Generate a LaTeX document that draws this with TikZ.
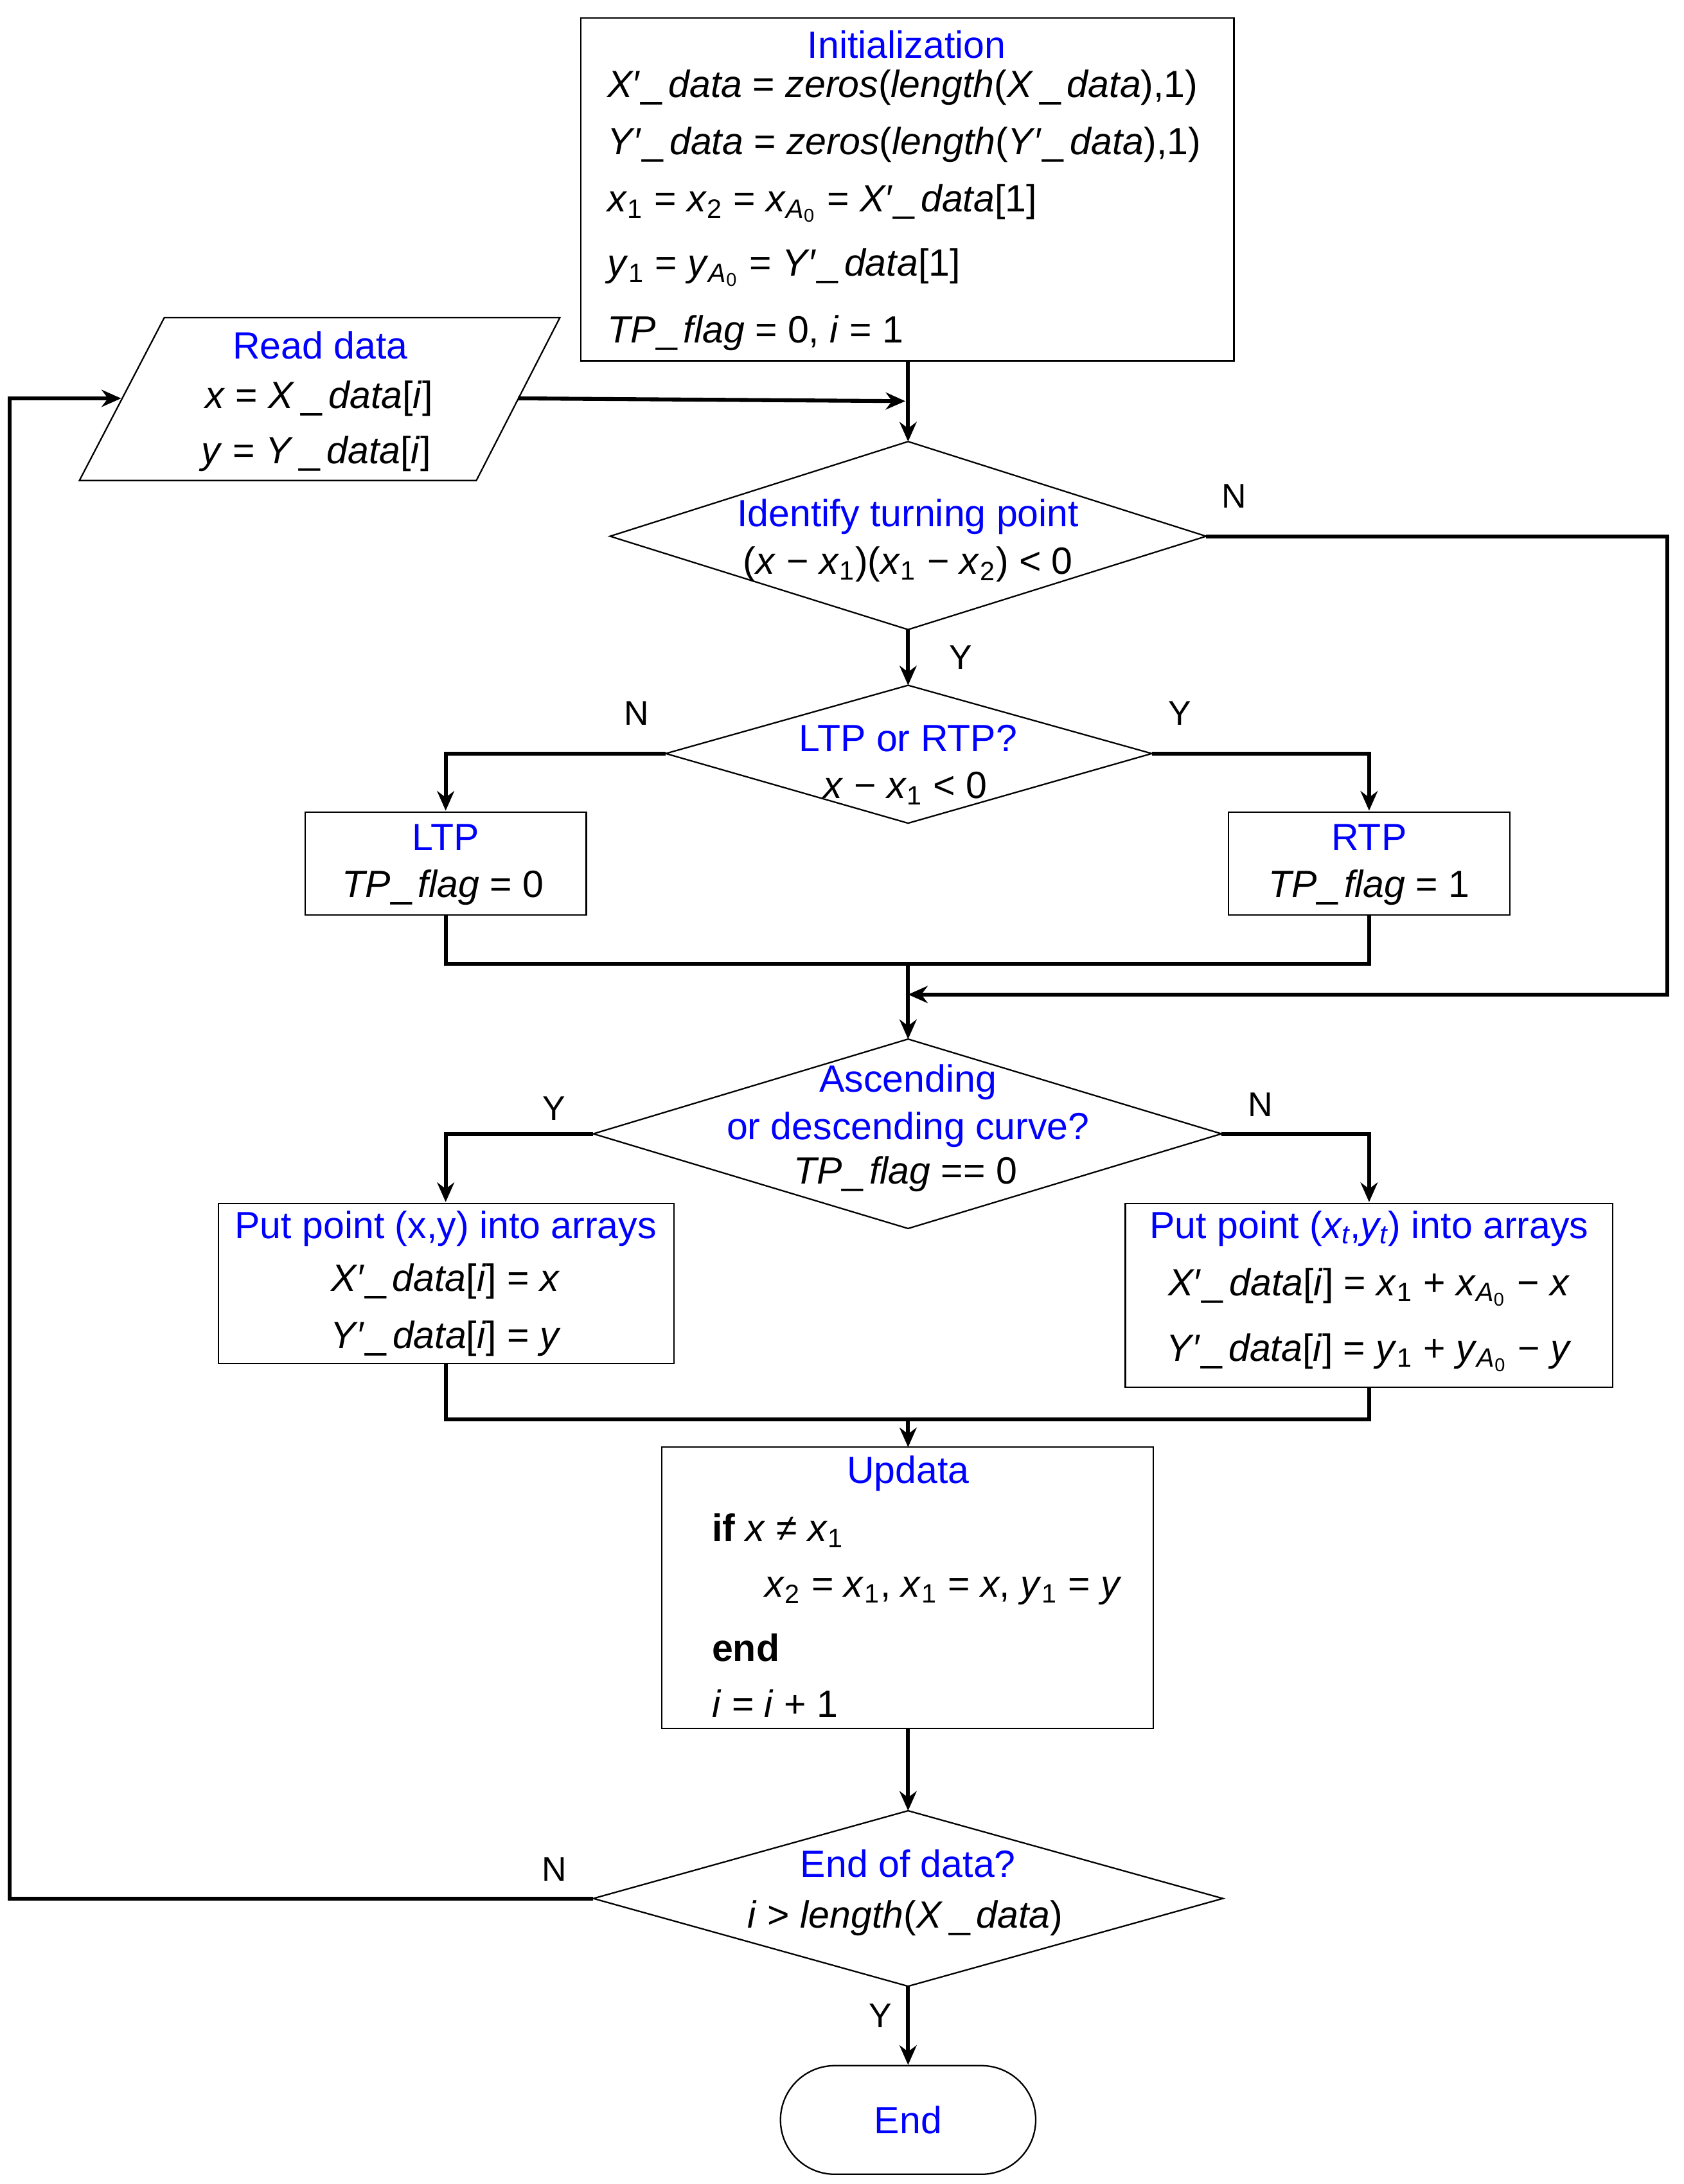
\documentclass[tikz,border=0pt]{standalone}
\usepackage{fontspec}
\setmainfont{Liberation Sans}
\usetikzlibrary{shapes.geometric,shapes.misc,arrows.meta}
\newcommand{\mi}[1]{\textit{#1}}
\newcommand{\sbs}[1]{\textsubscript{#1}}
\newcommand{\us}{\_\,}
\begin{document}
\begin{tikzpicture}[x=0.02cm,y=-0.02cm,
  every node/.style={font=\fontsize{15.5}{18}\selectfont},
  ttl/.style={text=blue},
  ar/.style={line width=1.6pt,-{Stealth[length=8pt,width=7pt]}},
  ln/.style={line width=1.6pt},
  lab/.style={font=\fontsize{14}{16}\selectfont}]
\useasboundingbox (0,0) rectangle (1209,1568);
% Initialization
\draw[line width=0.6pt] (417,13) rectangle (886,259);
\node[ttl] (init) at (651,32) {Initialization};
\node[anchor=west] at (430,63) {\mi{X}′\us\mi{data} = \mi{zeros}(\mi{length}(\mi{X}\,\us\mi{data}),1)};
\node[anchor=west] at (430,104) {\mi{Y}′\us\mi{data} = \mi{zeros}(\mi{length}(\mi{Y}′\us\mi{data}),1)};
\node[anchor=west] at (430,146) {\mi{x}\sbs{1} = \mi{x}\sbs{2} = \mi{x}\sbs{\mi{A}\textsubscript{0}} = \mi{X}′\us\mi{data}[1]};
\node[anchor=west] at (430,192) {\mi{y}\sbs{1} = \mi{y}\sbs{\mi{A}\textsubscript{0}} = \mi{Y}′\us\mi{data}[1]};
\node[anchor=west] at (430,239) {\mi{TP}\us\mi{flag} = 0, \mi{i} = 1};
\coordinate (initb) at (652,259);
% Read data
\draw[line width=0.6pt] (118,228) -- (402,228) -- (342,345) -- (57,345) -- cycle;
\node[ttl] (rd) at (230,248) {Read data};
\node at (229,286) {\mi{x} = \mi{X}\,\us\mi{data}[\mi{i}]};
\node at (227,326) {\mi{y} = \mi{Y}\,\us\mi{data}[\mi{i}]};
\coordinate (rdr) at (372,286);
\coordinate (rdl) at (87,286);
% Diamond 1
\draw[line width=0.6pt] (438,385) -- (652,317) -- (866,385) -- (652,452) -- cycle;
\coordinate (d1t) at (652,317); \coordinate (d1b) at (652,452); \coordinate (d1r) at (866,385);
\node[ttl] at (652,371) {Identify turning point};
\node at (652,405) {(\mi{x} − \mi{x}\sbs{1})(\mi{x}\sbs{1} − \mi{x}\sbs{2}) < 0};
% Diamond 2
\draw[line width=0.6pt] (478,541) -- (652,492) -- (827,541) -- (652,591) -- cycle;
\coordinate (d2t) at (652,492); \coordinate (d2l) at (478,541); \coordinate (d2r) at (827,541);
\node[ttl] at (652,530) {LTP or RTP?};
\node at (650,566) {\mi{x} − \mi{x}\sbs{1} < 0};
% LTP / RTP
\draw[line width=0.6pt] (219,583) rectangle (421,657);
\node[ttl] at (320,601) {LTP};
\node at (318,637) {\mi{TP}\us\mi{flag} = 0};
\draw[line width=0.6pt] (882,583) rectangle (1084,657);
\node[ttl] at (983,601) {RTP};
\node at (983,637) {\mi{TP}\us\mi{flag} = 1};
% Diamond 3
\draw[line width=0.6pt] (426,814) -- (652,746) -- (877,814) -- (652,882) -- cycle;
\node[ttl] at (652,777) {Ascending};
\node[ttl] at (652,811) {or descending curve?};
\node at (650,843) {\mi{TP}\us\mi{flag} == 0};
% left/right boxes
\draw[line width=0.6pt] (157,864) rectangle (484,979);
\node[ttl] at (320,882) {Put point (x,y) into arrays};
\node at (320,920) {\mi{X}′\us\mi{data}[\mi{i}] = \mi{x}};
\node at (320,961) {\mi{Y}′\us\mi{data}[\mi{i}] = \mi{y}};
\draw[line width=0.6pt] (808,864) rectangle (1158,996);
\node[ttl] at (983,882) {Put point (\mi{x\sbs{t}},\mi{y\sbs{t}}) into arrays};
\node at (983,924) {\mi{X}′\us\mi{data}[\mi{i}] = \mi{x}\sbs{1} + \mi{x}\sbs{\mi{A}\textsubscript{0}} − \mi{x}};
\node at (983,971) {\mi{Y}′\us\mi{data}[\mi{i}] = \mi{y}\sbs{1} + \mi{y}\sbs{\mi{A}\textsubscript{0}} − \mi{y}};
% Updata
\draw[line width=0.6pt] (475,1039) rectangle (828,1241);
\node[ttl] at (652,1058) {Updata};
\node[anchor=west] at (505,1099) {\textbf{if} \mi{x} ≠ \mi{x}\sbs{1}};
\node[anchor=west] at (543,1142) {\mi{x}\sbs{2} = \mi{x}\sbs{1}, \mi{x}\sbs{1} = \mi{x}, \mi{y}\sbs{1} = \mi{y}};
\node[anchor=west] at (505,1183) {\textbf{end}};
\node[anchor=west] at (505,1223) {\mi{i} = \mi{i} + 1};
% Diamond 4
\draw[line width=0.6pt] (426,1363) -- (652,1300) -- (878,1363) -- (652,1426) -- cycle;
\node[ttl] at (652,1338) {End of data?};
\node at (650,1377) {\mi{i} > \mi{length}(\mi{X}\,\us\mi{data})};
% End
\node[draw,line width=0.6pt,rounded rectangle,minimum width=3.9cm,minimum height=1.56cm,text=blue] (end) at (652,1522) {End};
% connectors
\draw[ar] (initb) -- (d1t);
\draw[ar] (rdr) -- (650,288);
\draw[ar] (d1r) -- (1197,385) -- (1197,714) -- (652,714);
\draw[ar] (d1b) -- (d2t);
\draw[ar] (d2l) -- (320,541) -- (320,582);
\draw[ar] (d2r) -- (983,541) -- (983,582);
\draw[ln] (320,657) -- (320,692) -- (983,692) -- (983,657);
\draw[ar] (652,692) -- (652,746);
\draw[ar] (426,814) -- (320,814) -- (320,863);
\draw[ar] (877,814) -- (983,814) -- (983,863);
\draw[ln] (320,979) -- (320,1019) -- (983,1019) -- (983,996);
\draw[ar] (652,1019) -- (652,1039);
\draw[ar] (652,1241) -- (652,1300);
\draw[ar] (426,1363) -- (7,1363) -- (7,286) -- (rdl);
\draw[ar] (652,1426) -- (end.north);
% labels
\node[lab] at (886,356) {N};
\node[lab] at (690,472) {Y};
\node[lab] at (457,512) {N};
\node[lab] at (847,512) {Y};
\node[lab] at (398,796) {Y};
\node[lab] at (905,793) {N};
\node[lab] at (398,1342) {N};
\node[lab] at (632,1447) {Y};
\end{tikzpicture}
\end{document}
